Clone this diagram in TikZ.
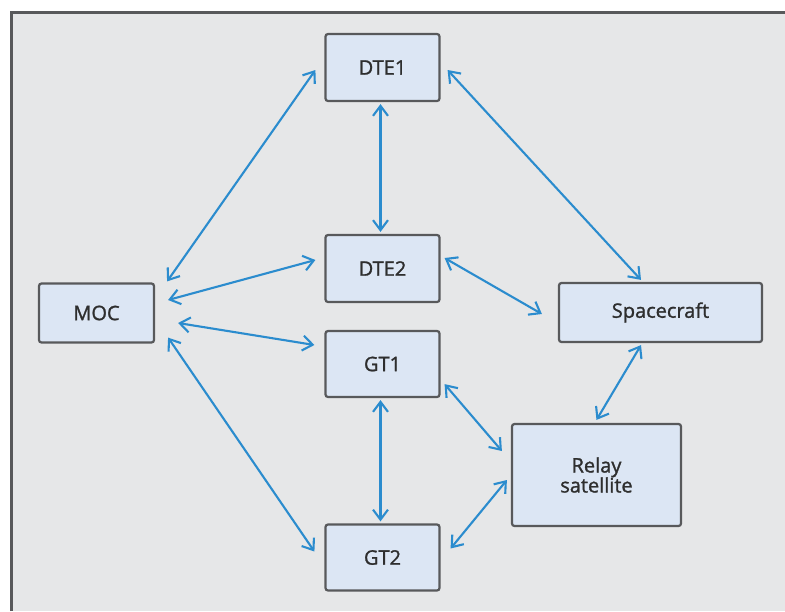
\documentclass[tikz,border=0pt]{standalone}
\usepackage{fontspec}
\newfontfamily\boxfont{Open Sans}[FakeBold=1.3]
\usetikzlibrary{arrows.meta}
\definecolor{panel}{HTML}{E6E7E8}
\definecolor{frameline}{HTML}{58595B}
\definecolor{boxfill}{HTML}{DCE6F4}
\definecolor{boxline}{HTML}{58595B}
\definecolor{link}{HTML}{2B8CCE}
\definecolor{label}{HTML}{2E2E2E}
\tikzset{
  unit/.style={draw=boxline, fill=boxfill, line width=2.2pt, rounded corners=2.5pt,
    inner sep=0pt, align=center, text=label, font=\boxfont\fontsize{20}{21}\selectfont},
  duplex/.style={draw=link, line width=2.1pt,
    {Straight Barb[length=10pt,width=15pt,line width=2.1pt]}-{Straight Barb[length=10pt,width=15pt,line width=2.1pt]}}
}
\begin{document}
\begin{tikzpicture}[x=1pt,y=-1pt]
\useasboundingbox (0,0) rectangle (785,611);
% panel: grey ground with its frame along the left and top sides
\fill[panel] (11,12) rectangle (785,611);
\draw[frameline, line width=3pt] (11,611) -- (11,12) -- (785,12);

% boxes
\node[unit, minimum width=114pt, minimum height=67pt] (dte1) at (382.5,67.5) {DTE1};
\node[unit, minimum width=114pt, minimum height=67pt] (dte2) at (382.5,268.5) {DTE2};
\node[unit, minimum width=114pt, minimum height=66pt] (gt1) at (382.5,364) {GT1};
\node[unit, minimum width=114pt, minimum height=66pt] (gt2) at (382.5,557.5) {GT2};
\node[unit, minimum width=115pt, minimum height=59pt] (moc) at (96.5,313) {MOC};
\node[unit, minimum width=203pt, minimum height=59pt] (sc) at (660.5,312.5) {Spacecraft};
\node[unit, minimum width=169pt, minimum height=102pt] (relay) at (596.5,475) {Relay\\[-1pt]satellite};

% links
\draw[duplex] ([shift={(12,-1)}]moc.north east) -- ([shift={(-9,2.5)}]dte1.west);
\draw[duplex] ([shift={(13,-13)}]moc.east) -- ([shift={(-9,-8.5)}]dte2.west);
\draw[duplex] ([shift={(23,10)}]moc.east) -- ([shift={(-10,-19)}]gt1.west);
\draw[duplex] ([shift={(13,-6)}]moc.south east) -- ([shift={(-10,-6)}]gt2.west);
\draw[duplex] ([shift={(-2,2)}]dte1.south) -- ([shift={(-2,-2)}]dte2.north);
\draw[duplex] ([shift={(-2,2)}]gt1.south) -- ([shift={(-2,-2)}]gt2.north);
\draw[duplex] ([shift={(7,2.5)}]dte1.east) -- ([shift={(-19.5,-2)}]sc.north);
\draw[duplex] ([shift={(4,-10.5)}]dte2.east) -- ([shift={(-16,1.5)}]sc.west);
\draw[duplex] ([shift={(4,-14)}]gt1.south east) -- ([shift={(-9,-24)}]relay.west);
\draw[duplex] ([shift={(10,-9)}]gt2.east) -- ([shift={(-4,5)}]relay.west);
\draw[duplex] ([shift={(-19.5,2)}]sc.south) -- ([shift={(0,-3)}]relay.north);
\end{tikzpicture}
\end{document}
